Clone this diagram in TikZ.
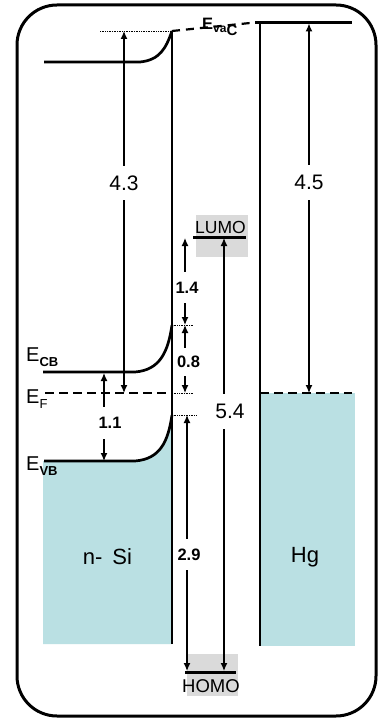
\documentclass[tikz,border=0pt]{standalone}
\usepackage{fontspec}
\setmainfont{Liberation Sans}
\usetikzlibrary{arrows.meta}
\definecolor{bandfill}{RGB}{186,224,227}
\definecolor{orbgray}{RGB}{218,218,218}
\newcommand{\fsz}[1]{\fontsize{#1}{#1}\selectfont}
\begin{document}
\begin{tikzpicture}[x=1pt,y=-1pt,
  frame/.style={line width=3pt, rounded corners=40pt},
  band/.style={line width=2.7pt},
  surf/.style={line width=2.1pt},
  fermi/.style={line width=2.5pt, dash pattern=on 9pt off 5pt},
  vacdash/.style={line width=2.2pt, dash pattern=on 8pt off 6pt},
  tick/.style={densely dotted, line width=0.7pt},
  orbital/.style={line width=3pt},
  dimarrow/.style={line width=1.3pt, {Latex[length=8pt,width=7pt]}-{Latex[length=8pt,width=7pt]}},
  val/.style={font=\fsz{21}, fill=white, inner xsep=1pt, inner ysep=10pt},
  bval/.style={font=\bfseries\fsz{16.5}, fill=white, inner xsep=1pt, inner ysep=10pt},
  lvl/.style={font=\fsz{20}, anchor=west, inner sep=0pt},
  big/.style={font=\fsz{22}, inner sep=0pt}]
\useasboundingbox (0,0) rectangle (378,719);

% filled bands
\fill[bandfill] (43,644) -- (43,461) -- (135,461) .. controls (160,459) and (168,442) .. (172,415) -- (172,644) -- cycle;
\fill[bandfill] (260,393) rectangle (355,646);

% orbital boxes
\fill[orbgray] (196,215) rectangle (248,257);
\fill[orbgray] (187,654) rectangle (238,696);

% outer frame
\draw[frame] (17,5) rectangle (376,716);

% key points
\coordinate (vacSi) at (172,31);
\coordinate (vacHg) at (255,22.5);
\coordinate (vacHgEnd) at (352,22.5);
\coordinate (cbSurf) at (172,325);
\coordinate (efSurf) at (172,393);
\coordinate (vbSurf) at (172,415);
\coordinate (siBottom) at (172,644);
\coordinate (hgTop) at (260,22.5);
\coordinate (hgBottom) at (260,646);

% Si bands
\draw[tick] (100,31) -- (vacSi);
\draw[band] (44,62) -- (140,62) .. controls (160,60) and (166,48) .. (vacSi);
\draw[band] (43,372) -- (135,372) .. controls (160,370) and (168,352) .. (cbSurf);
\draw[band] (44,461) -- (135,461) .. controls (160,459) and (168,442) .. (vbSurf);
\draw[fermi] (45,393) -- (efSurf);
\draw[surf] (vacSi) -- (siBottom);

% surface reference ticks
\coordinate (cbTick) at (193,325);
\coordinate (efTick) at (193,393);
\coordinate (vbTick) at (196,415);
\draw[tick] (cbSurf) -- (cbTick);
\draw[tick] (efSurf) -- (efTick);
\draw[tick] (vbSurf) -- (vbTick);

% vacuum level
\draw[vacdash] (vacSi) -- (vacHg);
\node[font=\bfseries, inner sep=0pt, anchor=west] (evac) at (202,27)
  {\fsz{16.5}E\raisebox{-3pt}{\fsz{12}va}\raisebox{-6pt}{\fsz{15}C}};

% Hg
\draw[band] (vacHg) -- (vacHgEnd);
\draw[surf] (hgTop) -- (hgBottom);
\draw[fermi] (260,393) -- (352,393);

% level labels
\node[lvl] (ecb) at (26,357) {E\raisebox{-5pt}{\bfseries\fsz{13}CB}};
\node[lvl] (ef) at (26,399) {E\raisebox{-5pt}{\fsz{13}F}};
\node[lvl] (evb) at (26,466) {E\raisebox{-5pt}{\bfseries\fsz{13}VB}};

% orbitals
\coordinate (lumoL) at (193,237);
\coordinate (lumoR) at (246,237);
\coordinate (homoL) at (185,672);
\coordinate (homoR) at (236,672);
\draw[orbital] (lumoL) -- (lumoR);
\draw[orbital] (homoL) -- (homoR);
\node[font=\fsz{17.5}, inner sep=0pt] (lumo) at (220.5,227.5) {LUMO};
\node[font=\fsz{18.5}, inner sep=0pt] (homo) at (211,686) {HOMO};

% dimension arrows
\coordinate (a43t) at (124,31);
\coordinate (a43b) at (124,393);
\draw[dimarrow] (a43t) -- node[val, pos=0.42] (l43) {4.3} (a43b);

\coordinate (a45t) at (309,23.5);
\coordinate (a45b) at (309,393);
\draw[dimarrow] (a45t) -- node[val, pos=0.43] (l45) {4.5} (a45b);

\coordinate (a11t) at (104,373);
\coordinate (a11b) at (104,461);
\draw[dimarrow] (a11t) -- node[bval, pos=0.57, xshift=6pt] (l11) {1.1} (a11b);

\coordinate (a14t) at (185,238);
\coordinate (a14b) at (185,325);
\draw[dimarrow] (a14t) -- node[bval, pos=0.57, xshift=2pt] (l14) {1.4} (a14b);

\coordinate (a08t) at (185,325);
\coordinate (a08b) at (185,393);
\draw[dimarrow] (a08t) -- node[bval, pos=0.54, xshift=3.5pt, inner ysep=8pt] (l08) {0.8} (a08b);

\coordinate (a29t) at (187,415);
\coordinate (a29b) at (187,671);
\draw[dimarrow] (a29t) -- node[bval, pos=0.545, xshift=2pt] (l29) {2.9} (a29b);

\coordinate (a54t) at (224,238);
\coordinate (a54b) at (224,671);
\draw[dimarrow] (a54t) -- node[val, pos=0.40, xshift=6pt] (l54) {5.4} (a54b);

% material names
\node[big] (si) at (107.5,557) {n-\hspace{10pt}Si};
\node[big] (hg) at (305,557) {Hg};
\end{tikzpicture}
\end{document}
